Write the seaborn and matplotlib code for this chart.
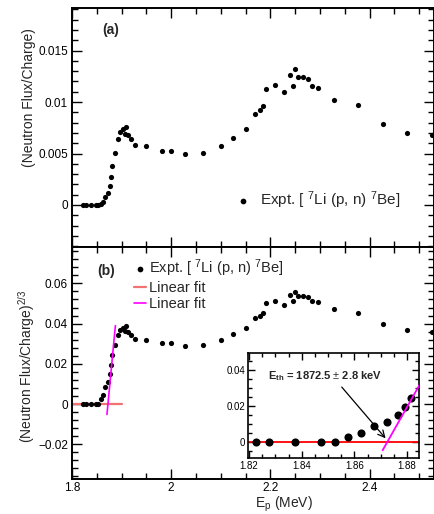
import matplotlib
matplotlib.use('Agg')
import matplotlib.pyplot as plt
from matplotlib.ticker import MultipleLocator
import numpy as np
import seaborn as sns

# proton energy (MeV)
ep_mev = [1.8225, 1.8275, 1.8375, 1.8475, 1.8525, 1.8575, 1.8625, 1.8675, 1.8725,
          1.8765, 1.8790, 1.8815, 1.8874, 1.8920, 1.8958, 1.9021, 1.9090, 1.9075,
          1.9130, 1.9180, 1.9276, 1.9500, 1.9805, 2.0006, 2.0280, 2.0640, 2.1000,
          2.1250, 2.1500, 2.1700, 2.1800, 2.1856, 2.1904, 2.2085, 2.2271, 2.2392,
          2.2452, 2.2499, 2.2553, 2.2659, 2.2760, 2.2848, 2.2955, 2.3276, 2.3765,
          2.4267, 2.4764, 2.5250]

# panel (a): neutron flux / charge
flux = [0, 0, 0, 0, 0, 0.00012, 0.00032, 0.00080, 0.00113,
        0.00180, 0.00272, 0.00382, 0.00502, 0.00638, 0.00705, 0.00735, 0.00760, 0.00690,
        0.00680, 0.00640, 0.00583, 0.00568, 0.00527, 0.00524, 0.00495, 0.00502, 0.00573,
        0.00653, 0.00735, 0.00880, 0.00922, 0.00964, 0.01123, 0.01165, 0.01097, 0.01262,
        0.01152, 0.01320, 0.01240, 0.01240, 0.01223, 0.01155, 0.01139, 0.01020, 0.00968,
        0.00789, 0.00702, 0.00680]

# panel (b): (neutron flux / charge)^(2/3)
flux23 = [0, 0, 0, 0, 0, 0.00243, 0.00468, 0.00862, 0.01086,
          0.01480, 0.01948, 0.02443, 0.02931, 0.03441, 0.03676, 0.03779, 0.03865, 0.03625,
          0.03590, 0.03448, 0.03240, 0.03184, 0.03029, 0.03017, 0.02905, 0.02931, 0.03203,
          0.03494, 0.03779, 0.04264, 0.04397, 0.04528, 0.05013, 0.05139, 0.04937, 0.05415,
          0.05100, 0.05584, 0.05359, 0.05359, 0.05309, 0.05109, 0.05062, 0.04705, 0.04541,
          0.03963, 0.03666, 0.03590]

# linear fits
e_th = 1.8725
fit_slope = 2.6
flat_fit_x = [1.80, 1.90]
rise_fit_x = [1.8705, 1.8875]
inset_flat_x = [1.815, 1.89]
inset_rise_x = [1.8707, 1.8860]

sns.set_theme(style='ticks')
plt.rcParams['font.family'] = ['Liberation Sans', 'DejaVu Sans']
plt.rcParams['mathtext.fontset'] = 'custom'
plt.rcParams['mathtext.rm'] = 'Liberation Sans'
plt.rcParams['mathtext.it'] = 'Liberation Sans:italic'
plt.rcParams['mathtext.bf'] = 'Liberation Sans:bold'

df = {'ep': np.array(ep_mev), 'flux': np.array(flux), 'flux23': np.array(flux23)}
expt_label = r'Expt. [ $^{7}$Li (p, n) $^{7}$Be]'


def root_style(ax, lw=1.4, major=7, minor=4, size=8.5):
    for s in ax.spines.values():
        s.set_linewidth(lw)
        s.set_color('black')
    ax.tick_params(which='both', direction='in', top=True, right=True,
                   width=1, colors='black', labelsize=size, pad=3)
    ax.tick_params(which='major', length=major)
    ax.tick_params(which='minor', length=minor)


def fmt(v, pos):
    return ('%g' % v).replace('-', '\u2212')


fig = plt.figure(figsize=(4.35, 5.14), dpi=100)
W, H = 435.0, 514.0
ax_a = fig.add_axes([72 / W, 1 - 247 / H, 362 / W, 239 / H])
ax_b = fig.add_axes([72 / W, 1 - 479 / H, 362 / W, 232 / H])
ax_in = fig.add_axes([247.7 / W, 1 - 458 / H, 171.3 / W, 105 / H])

# ---- panel (a)
sns.scatterplot(x=df['ep'], y=df['flux'], ax=ax_a, color='black', s=14,
                linewidth=0, label=expt_label)
ax_a.set_xlim(1.8, 2.53)
ax_a.set_ylim(-0.00408, 0.01913)
ax_a.xaxis.set_major_locator(MultipleLocator(0.2))
ax_a.xaxis.set_minor_locator(MultipleLocator(0.05))
ax_a.yaxis.set_major_locator(MultipleLocator(0.005))
ax_a.yaxis.set_minor_locator(MultipleLocator(0.001))
ax_a.yaxis.set_major_formatter(fmt)
root_style(ax_a)
ax_a.tick_params(labelbottom=False)
ax_a.set_xlabel('')
ax_a.set_ylabel('(Neutron Flux/Charge)', fontsize=10)
ax_a.yaxis.set_label_coords(-0.12, 0.627)
ax_a.yaxis.label.set_va('center')
ax_a.text(0.108, 0.908, '(a)', transform=ax_a.transAxes, fontsize=10,
          fontweight='bold', ha='center', va='center')
ax_a.legend(loc='center left', bbox_to_anchor=(0.456, 0.197), frameon=False,
            fontsize=11, handlelength=0.8, handletextpad=0.7, borderpad=0,
            borderaxespad=0, markerscale=1.1)

# ---- panel (b)
sns.scatterplot(x=df['ep'], y=df['flux23'], ax=ax_b, color='black', s=14,
                linewidth=0, label=expt_label, zorder=3)
sns.lineplot(x=flat_fit_x, y=[0 * x for x in flat_fit_x], ax=ax_b,
             color='#f27272', linewidth=1.6, label='Linear fit', zorder=2)
sns.lineplot(x=rise_fit_x, y=[fit_slope * (x - e_th) for x in rise_fit_x], ax=ax_b,
             color='#ff00ff', linewidth=1.2, label='Linear fit', zorder=4)
ax_b.set_xlim(1.8, 2.53)
ax_b.set_ylim(-0.0373, 0.0781)
ax_b.xaxis.set_major_locator(MultipleLocator(0.2))
ax_b.xaxis.set_minor_locator(MultipleLocator(0.05))
ax_b.yaxis.set_major_locator(MultipleLocator(0.02))
ax_b.yaxis.set_minor_locator(MultipleLocator(0.004))
ax_b.xaxis.set_major_formatter(fmt)
ax_b.yaxis.set_major_formatter(fmt)
root_style(ax_b)
ax_b.tick_params(axis='x', pad=2)
ax_b.set_xlabel(r'E$_{\rm p}$ (MeV)', fontsize=10)
ax_b.xaxis.set_label_coords(0.586, -0.108)
ax_b.xaxis.label.set_va('center')
ax_b.set_ylabel(r'(Neutron Flux/Charge)$^{2/3}$', fontsize=10)
ax_b.yaxis.set_label_coords(-0.125, 0.485)
ax_b.yaxis.label.set_va('center')
ax_b.text(0.094, 0.897, '(b)', transform=ax_b.transAxes, fontsize=10,
          fontweight='bold', ha='center', va='center')
ax_b.legend(loc='upper left', bbox_to_anchor=(0.171, 0.955), frameon=False,
            fontsize=10.5, handlelength=0.8, handletextpad=0.25, borderpad=0,
            borderaxespad=0, labelspacing=0.15, markerscale=1.1)

# ---- inset
near = df['ep'] < 1.885
sns.scatterplot(x=df['ep'][near], y=df['flux23'][near], ax=ax_in, color='black',
                s=34, linewidth=0, zorder=3, legend=False)
sns.lineplot(x=inset_flat_x, y=[0 * x for x in inset_flat_x], ax=ax_in,
             color='red', linewidth=1.3, zorder=2, legend=False)
sns.lineplot(x=inset_rise_x, y=[fit_slope * (x - e_th) for x in inset_rise_x],
             ax=ax_in, color='#ff00ff', linewidth=1.3, zorder=4, legend=False)
ax_in.set_xlim(1.8195, 1.8845)
ax_in.set_ylim(-0.009, 0.0495)
ax_in.xaxis.set_major_locator(MultipleLocator(0.02))
ax_in.xaxis.set_minor_locator(MultipleLocator(0.005))
ax_in.yaxis.set_major_locator(MultipleLocator(0.02))
ax_in.yaxis.set_minor_locator(MultipleLocator(0.005))
ax_in.xaxis.set_major_formatter(fmt)
ax_in.yaxis.set_major_formatter(fmt)
root_style(ax_in, lw=1.2, major=5, minor=3, size=7)
ax_in.tick_params(pad=2)
ax_in.set_xlabel('')
ax_in.set_ylabel('')
ax_in.annotate('', xy=(e_th, 0.0008), xytext=(1.8545, 0.0317),
               arrowprops=dict(arrowstyle='->', color='black', lw=0.9))
ax_in.text(1.8272, 0.0367, r'E$_{\bf th}$ = 1872.5 $\pm$ 2.8 keV', fontsize=8,
           fontweight='bold', ha='left', va='center')

fig.savefig('out.png', dpi=100)
